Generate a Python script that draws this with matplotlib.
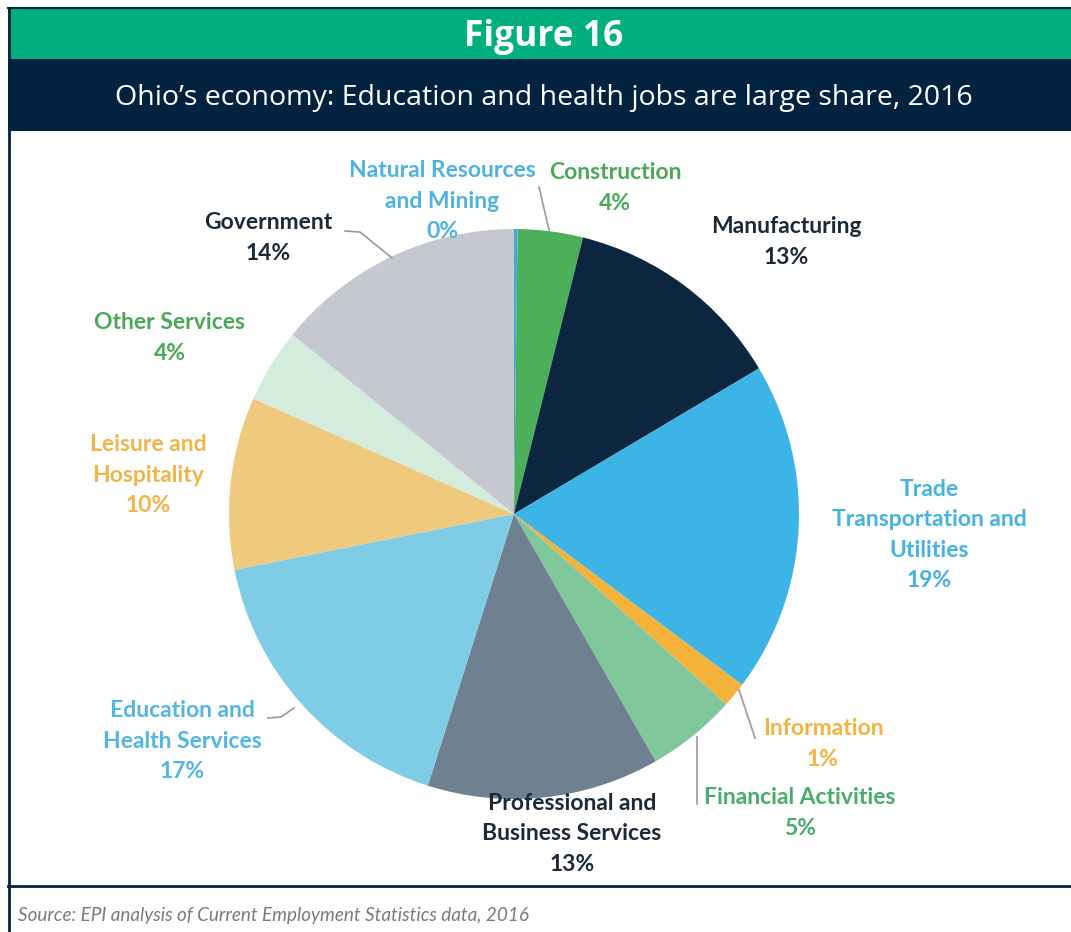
import matplotlib
matplotlib.use('Agg')
import matplotlib.pyplot as plt
from matplotlib.patches import Rectangle

# Ohio employment by sector, 2016 (share of total jobs, %)
sectors = ['Natural Resources\nand Mining', 'Construction', 'Manufacturing',
           'Trade\nTransportation and\nUtilities', 'Information',
           'Financial Activities', 'Professional and\nBusiness Services',
           'Education and\nHealth Services', 'Leisure and\nHospitality',
           'Other Services', 'Government']
shares = [0.2, 3.7, 12.6, 18.8, 1.4, 5.1, 13.2, 17.0, 9.8, 4.2, 14.2]

wedge_colors = ['#4aa6d6', '#4cb05a', '#0c2640', '#3db4e6', '#f5b23a', '#80c89c',
                '#6f8091', '#7ecce6', '#efc97e', '#d3ecdc', '#c5c9cf']
text_colors = ['#4fb2e0', '#4aa957', '#1c2a38', '#45b3e2', '#f1b43e', '#48ac6a',
               '#1c2a38', '#53b6e2', '#f0b448', '#4aa957', '#1c2a38']
# label anchor (pixel x, pixel y of block centre)
label_pos = [(442, 201), (615, 188), (786, 242), (929, 535), (823, 744),
             (800, 813), (572, 834), (182, 741), (148, 475), (170, 338), (268, 238)]

W, H = 1071, 932
fig = plt.figure(figsize=(W / 100, H / 100), dpi=100)

cx, cy, r = 514, 514, 285
pie_ax = fig.add_axes([(cx - r) / W, (H - cy - r) / H, 2 * r / W, 2 * r / H])
pie_ax.pie(shares, colors=wedge_colors, startangle=90, counterclock=False,
           radius=1, wedgeprops=dict(linewidth=0))
pie_ax.set_xlim(-1, 1)
pie_ax.set_ylim(-1, 1)
pie_ax.axis('off')

# overlay in pixel coordinates for header, labels and leaders (drawn on top)
bg = fig.add_axes([0, 0, 1, 1])
bg.set_xlim(0, W)
bg.set_ylim(H, 0)
bg.axis('off')

navy = '#01233f'
green = '#00ae7e'
bg.add_patch(Rectangle((8, 8), W, 51, facecolor=green, edgecolor='none'))
bg.add_patch(Rectangle((8, 59), W, 72, facecolor=navy, edgecolor='none'))
bg.plot([8, W], [8, 8], color=navy, lw=1.5)
bg.plot([9, 9], [8, H], color=navy, lw=2)
bg.plot([8, W], [886, 886], color=navy, lw=2)

bg.text(544, 37, 'Figure 16', color='white', fontsize=25.5, fontweight='bold',
        family='Open Sans', ha='center', va='center')
bg.text(544, 98, 'Ohio\u2019s economy: Education and health jobs are large share, 2016',
        color='white', fontsize=20.5, fontweight='medium', family='Open Sans',
        ha='center', va='center')
bg.text(18, 915, 'Source: EPI analysis of Current Employment Statistics data, 2016',
        color='#7a7a7a', fontsize=13.6, style='italic', family='Lato',
        ha='left', va='center')

# leader lines
leaders = [
    ([345, 360, 392], [231, 232, 258]),
    ([549, 539], [230, 187]),
    ([739, 755], [690, 738]),
    ([697, 697], [737, 804]),
    ([268, 281, 294], [718, 717, 708]),
]
for xs, ys in leaders:
    bg.plot(xs, ys, color='#9a9a9a', lw=1.2)

for name, val, col, (x, y) in zip(sectors, shares, text_colors, label_pos):
    bg.text(x, y, f'{name}\n{round(val)}%', color=col, fontsize=16.5,
            fontweight='bold', family='Lato', ha='center', va='center',
            linespacing=1.55)

fig.savefig('out.png', dpi=100)
